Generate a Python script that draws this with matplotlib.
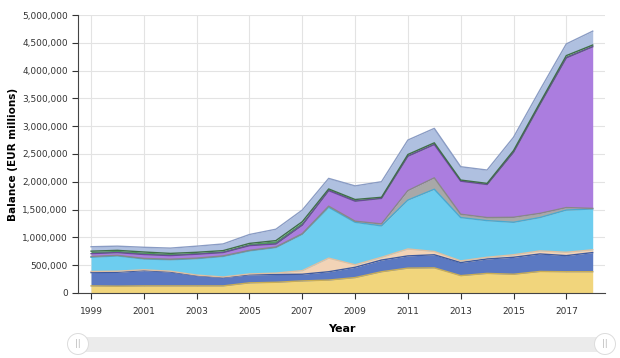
import numpy as np
import matplotlib
matplotlib.use('Agg')
import matplotlib.pyplot as plt
from matplotlib.patches import FancyBboxPatch, Ellipse

years = list(range(1999, 2019))

# balance by layer, EUR millions (bottom layer first)
yellow = [125, 120, 125, 125, 125, 125, 180, 190, 215, 230, 275, 380, 445, 450, 310, 350, 335, 385, 380, 380]
blue = [240, 250, 275, 250, 185, 150, 145, 140, 120, 150, 185, 210, 220, 235, 235, 260, 305, 315, 290, 345]
peach = [20, 20, 15, 15, 10, 10, 15, 25, 65, 245, 45, 50, 125, 60, 30, 30, 45, 55, 60, 50]
sky = [255, 275, 195, 205, 295, 370, 415, 460, 655, 915, 765, 565, 880, 1120, 780, 660, 585, 600, 760, 735]
grey = [15, 10, 10, 10, 10, 10, 10, 10, 10, 20, 20, 35, 170, 205, 60, 55, 90, 75, 45, 10]
purple = [50, 50, 70, 65, 70, 60, 85, 55, 155, 280, 360, 460, 620, 600, 595, 595, 1170, 1960, 2695, 2910]
green = [45, 40, 45, 40, 35, 35, 40, 60, 60, 30, 30, 20, 30, 30, 20, 20, 30, 30, 40, 30]
lavender = [80, 75, 85, 95, 110, 120, 160, 205, 210, 190, 245, 280, 260, 260, 240, 240, 240, 230, 210, 250]

layers = [yellow, blue, peach, sky, grey, purple, green, lavender]
fills = ['#f1d57c', '#5b79c2', '#f2d3b6', '#6dcdef', '#a8a8a8', '#ab7ddf', '#4f9a5e', '#afc0e0']
edges = ['#c9ad55', '#3e5a9e', '#e0bfa0', '#4aa8cf', '#888888', '#6a4a9a', '#3f6e48', '#8a9cc4']

fig = plt.figure(figsize=(6.2, 3.58), dpi=100)
ax = fig.add_axes([0.126, 0.182, 0.850, 0.776])

x = np.array(years)
base = np.zeros(len(years))
for vals, fc, ec in zip(layers, fills, edges):
    top = base + np.array(vals) * 1000
    ax.fill_between(x, base, top, color=fc, linewidth=0, zorder=2)
    ax.plot(x, top, color=ec, linewidth=1, zorder=3)
    base = top

ax.set_xlim(1998.51, 2018.47)
ax.set_ylim(0, 5_000_000)
ax.set_xticks(range(1999, 2019, 2))
ax.set_yticks(range(0, 5_000_001, 500_000))
ax.yaxis.set_major_formatter(matplotlib.ticker.FuncFormatter(lambda v, p: f'{int(v):,}'))
ax.grid(True, color='#e3e3e3', linewidth=0.8, zorder=0)
ax.set_axisbelow(True)

for s in ['top', 'right']:
    ax.spines[s].set_visible(False)
ax.spines['left'].set_color('#444444')
ax.spines['bottom'].set_color('#444444')
ax.tick_params(labelsize=6.5, colors='#333333', length=4, width=0.8)
ax.tick_params(axis='x', pad=6)

ax.set_xlabel('Year', fontsize=8, fontweight='bold', labelpad=6)
ax.set_ylabel('Balance (EUR millions)', fontsize=7.5, fontweight='bold')
ax.yaxis.set_label_coords(-0.115, 0.5)

# range slider under the chart
bar = FancyBboxPatch((80 / 620, 1 - 352 / 358), 525 / 620, 15 / 358,
                     boxstyle='round,pad=0,rounding_size=0.01',
                     transform=fig.transFigure, facecolor='#ebebeb', edgecolor='none')
fig.patches.append(bar)
for hx in (78, 605):
    for r, c in ((11, '#dddddd'), (10, 'white')):
        e = Ellipse((hx / 620, 1 - 344 / 358), 2 * r / 620, 2 * r / 358,
                    transform=fig.transFigure, facecolor=c, edgecolor='none')
        fig.patches.append(e)
    fig.text(hx / 620, 1 - 344 / 358, '||', fontsize=6, color='#bbbbbb',
             ha='center', va='center')

fig.savefig('out.png', dpi=100)
